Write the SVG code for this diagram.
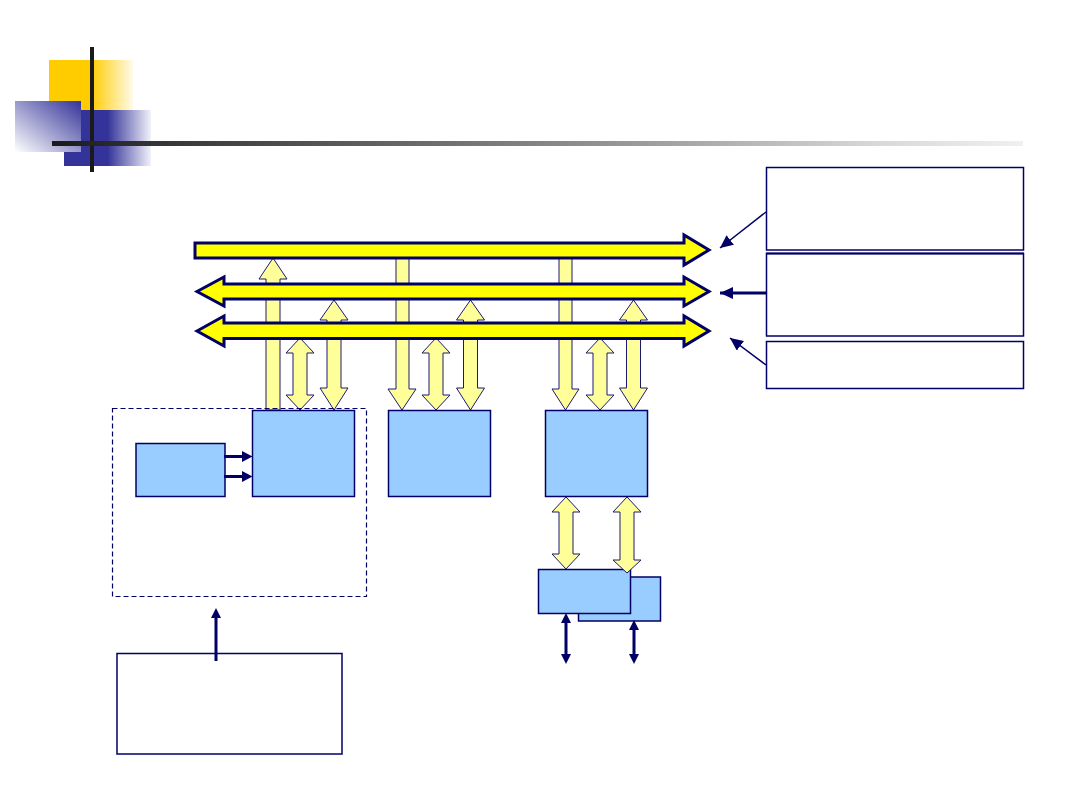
<svg xmlns="http://www.w3.org/2000/svg" width="1080" height="810" viewBox="0 0 1080 810">
<style>
.bus{fill:#FFFF00;stroke:#000066;stroke-width:3;stroke-linejoin:miter}
.va{fill:#FFFF99;stroke:#1a1a70;stroke-width:1}
.box{fill:#99CCFF;stroke:#000066;stroke-width:1.5}
.note{fill:#FFFFFF;stroke:#000066;stroke-width:1.5}
.nav{stroke:#000066;fill:none}
.head{fill:#000066}
</style>
<defs>
<linearGradient id="gy" x1="0" y1="0" x2="1" y2="0">
<stop offset="0" stop-color="#FFCC00"/><stop offset="0.5" stop-color="#FFCC00"/><stop offset="1" stop-color="#FFFBEA"/>
</linearGradient>
<linearGradient id="gbr" x1="0" y1="0" x2="1" y2="0">
<stop offset="0" stop-color="#333399"/><stop offset="0.5" stop-color="#333399"/><stop offset="1" stop-color="#F2F2FA"/>
</linearGradient>
<linearGradient id="gbl" x1="1" y1="0" x2="0" y2="1">
<stop offset="0" stop-color="#333399"/><stop offset="1" stop-color="#FFFFFF"/>
</linearGradient>
<linearGradient id="gl" gradientUnits="userSpaceOnUse" x1="52" y1="0" x2="1023" y2="0">
<stop offset="0" stop-color="#1a1a1a"/><stop offset="0.1" stop-color="#333333"/><stop offset="0.36" stop-color="#666666"/><stop offset="0.6" stop-color="#999999"/><stop offset="0.85" stop-color="#d8d8d8"/><stop offset="1" stop-color="#f0f0f0"/>
</linearGradient>
<marker id="ah" markerUnits="userSpaceOnUse" markerWidth="14" markerHeight="12" refX="13" refY="6" orient="auto">
<path d="M0,0 L13,6 L0,12 Z" fill="#000066"/>
</marker>
</defs>

<g id="decoration">
<rect x="49" y="60" width="84" height="50" fill="url(#gy)"/>
<rect x="64" y="110" width="87" height="56" fill="url(#gbr)"/>
<rect x="15" y="101" width="66" height="51" fill="url(#gbl)"/>
<rect x="90" y="47" width="4" height="125" fill="#1a1a1a"/>
<rect x="52" y="141" width="971" height="5" fill="url(#gl)"/>
</g>

<g id="vertical-arrows">
<!-- column 1 -->
<path class="va" d="M273,258 L287,279 L280,279 L280,410 L266,410 L266,279 L259,279 Z"/>
<path class="va" d="M300,338 L314,353 L307,353 L307,395 L314,395 L300,410 L286,395 L293,395 L293,353 L286,353 Z"/>
<path class="va" d="M334,300 L348,320 L341,320 L341,388 L348,388 L334,410 L320,388 L327,388 L327,320 L320,320 Z"/>
<!-- column 2 -->
<path class="va" d="M396,258 L409,258 L409,389 L416,389 L402,410 L388,389 L396,389 Z"/>
<path class="va" d="M436,338 L450,353 L443,353 L443,395 L450,395 L436,410 L422,395 L429,395 L429,353 L422,353 Z"/>
<path class="va" d="M470.5,300 L484.5,320 L477.5,320 L477.5,388 L484.5,388 L470.5,410 L456.5,388 L463.5,388 L463.5,320 L456.5,320 Z"/>
<!-- column 3 -->
<path class="va" d="M559,258 L572,258 L572,389 L579,389 L565.5,410 L552,389 L559,389 Z"/>
<path class="va" d="M600,338 L614,353 L607,353 L607,395 L614,395 L600,410 L586,395 L593,395 L593,353 L586,353 Z"/>
<path class="va" d="M633.5,300 L647.5,320 L640.5,320 L640.5,388 L647.5,388 L633.5,410 L619.5,388 L626.5,388 L626.5,320 L619.5,320 Z"/>
</g>

<g id="buses">
<path id="bus-top" class="bus" d="M195,243 L684,243 L684,235 L709,250 L684,265 L684,258 L195,258 Z"/>
<path id="bus-mid" class="bus" d="M197,291.5 L224,277 L224,284 L684,284 L684,277 L709,291.5 L684,306 L684,299 L224,299 L224,306 Z"/>
<path id="bus-low" class="bus" d="M197,331 L224,316 L224,323 L684,323 L684,316 L709,331 L684,346 L684,338.5 L224,338.5 L224,346 Z"/>
</g>

<g id="group-dashed">
<rect x="112.5" y="408.5" width="254" height="188" fill="none" stroke="#000066" stroke-width="1.2" stroke-dasharray="5,3"/>
</g>
<g id="node-small"><rect class="box" x="136" y="443.5" width="89" height="53"/></g>
<g id="node-cpu"><rect class="box" x="252.5" y="410.5" width="102" height="86"/></g>
<g id="node-mid"><rect class="box" x="388.5" y="410.5" width="102" height="86"/></g>
<g id="node-right"><rect class="box" x="545.5" y="410.5" width="102" height="86"/></g>
<g id="node-back"><rect class="box" x="578.5" y="577" width="82" height="44" stroke-width="2"/></g>
<g id="node-front"><rect class="box" x="538.5" y="569.5" width="92" height="44"/></g>

<g id="note-a"><rect class="note" x="766.5" y="167.5" width="257" height="82.5"/></g>
<g id="note-b"><rect class="note" x="766.5" y="253.5" width="257" height="82.5"/><line x1="766" y1="253.5" x2="1024" y2="253.5" stroke="#000066" stroke-width="2"/></g>
<g id="note-c"><rect class="note" x="766.5" y="341.5" width="257" height="47"/></g>
<g id="note-d"><rect class="note" x="117" y="653.5" width="225" height="100.5" stroke-width="2"/></g>

<g id="connectors">
<!-- lower yellow double arrows -->
<path class="va" d="M566,497 L580,512 L573,512 L573,554 L580,554 L566,569 L552,554 L559,554 L559,512 L552,512 Z"/>
<path class="va" d="M627,497 L641,512 L634,512 L634,560 L641,560 L627,573 L613,560 L620,560 L620,512 L613,512 Z"/>
<!-- small arrows into cpu -->
<line class="nav" x1="224" y1="456.5" x2="244" y2="456.5" stroke-width="3"/>
<path class="head" d="M242,451 L252.5,456.5 L242,462 Z"/>
<line class="nav" x1="224" y1="476.5" x2="244" y2="476.5" stroke-width="3"/>
<path class="head" d="M242,471 L252.5,476.5 L242,482 Z"/>
<!-- io double arrows -->
<line class="nav" x1="566" y1="620" x2="566" y2="656" stroke-width="3"/>
<path class="head" d="M566,613 L571,623 L561,623 Z"/>
<path class="head" d="M566,664 L571,654 L561,654 Z"/>
<line class="nav" x1="634" y1="627" x2="634" y2="656" stroke-width="3"/>
<path class="head" d="M634,620 L639,630 L629,630 Z"/>
<path class="head" d="M634,664 L639,654 L629,654 Z"/>
<!-- up arrow from note-d -->
<line class="nav" x1="216" y1="661" x2="216" y2="616" stroke-width="3"/>
<path class="head" d="M216,608 L221,618 L211,618 Z"/>
<!-- pointers from notes -->
<line class="nav" x1="766" y1="212" x2="720" y2="248" stroke-width="1.5" marker-end="url(#ah)"/>
<line class="nav" x1="766" y1="293" x2="720" y2="293" stroke-width="3" marker-end="url(#ah)"/>
<line class="nav" x1="766" y1="365" x2="730" y2="338" stroke-width="1.5" marker-end="url(#ah)"/>
</g>
</svg>
